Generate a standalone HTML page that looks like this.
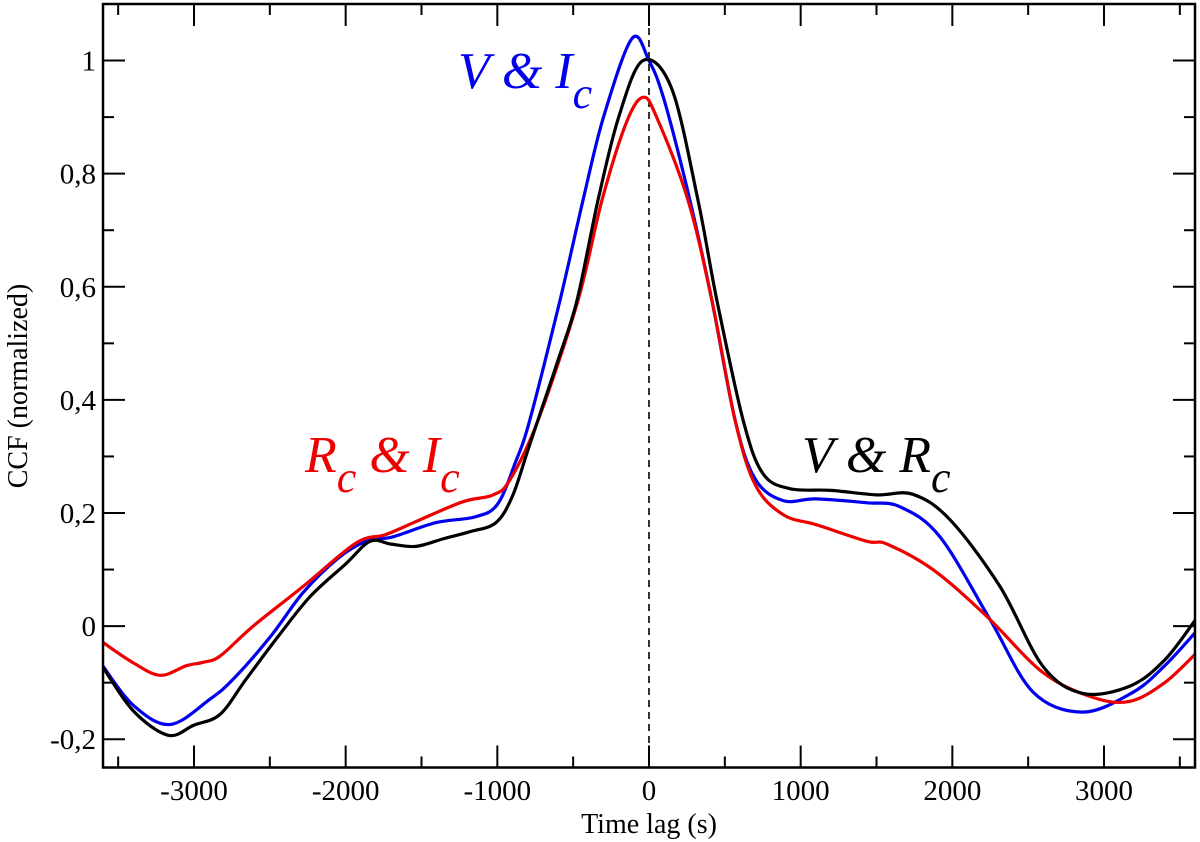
<!DOCTYPE html>
<html><head><meta charset="utf-8"><style>
body{margin:0;background:#fff}
svg{display:block;font-family:"Liberation Serif",serif}
</style></head><body>
<svg id="chart" width="1200" height="842" viewBox="0 0 1200 842" xmlns="http://www.w3.org/2000/svg">
<g id="grid"></g>
<g id="series"></g>
<g id="axes"></g>
<text x="458" y="88" font-size="52" font-style="italic" fill="#0000ee">V &amp; I<tspan font-size="44" dy="20">c</tspan></text>
<text x="305" y="472" font-size="52" font-style="italic" fill="#ee0000">R<tspan font-size="44" dy="20">c</tspan><tspan dy="-20"> &amp; I</tspan><tspan font-size="44" dy="20">c</tspan></text>
<text x="802" y="472" font-size="52" font-style="italic" fill="#000">V &amp; R<tspan font-size="44" dy="20">c</tspan></text>
<text x="649" y="833" font-size="28" text-anchor="middle">Time lag (s)</text>
<text x="0" y="0" font-size="28" text-anchor="middle" transform="translate(27,386) rotate(-90)">CCF (normalized)</text>
</svg>
<script>
const xTicks = [-3000,-2000,-1000,0,1000,2000,3000];
const xTickLabels = ["-3000","-2000","-1000","0","1000","2000","3000"];
const yTicks = [-0.2,0,0.2,0.4,0.6,0.8,1];
const yTickLabels = ["-0,2","0","0,2","0,4","0,6","0,8","1"];
const blackT = [-3600,-3400,-3171,-3000,-2828,-2657,-2450,-2235,-2000,-1839,-1700,-1536,-1350,-1180,-1009,-900,-800,-700,-600,-475,-336,-200,-40,150,323,448,620,750,930,1200,1500,1740,1985,2314,2597,2861,3171,3400,3600];
const blackV = [-0.073,-0.15,-0.193,-0.175,-0.156,-0.094,-0.02,0.052,0.11,0.15,0.145,0.141,0.155,0.167,0.183,0.23,0.31,0.39,0.47,0.576,0.753,0.9,1.0,0.95,0.753,0.576,0.365,0.27,0.243,0.24,0.232,0.233,0.188,0.07,-0.071,-0.119,-0.106,-0.06,0.01];
const blueT = [-3600,-3400,-3158,-2894,-2742,-2500,-2281,-2050,-1865,-1688,-1404,-1150,-1000,-880,-785,-587,-435,-300,-112,0,100,270,415,567,700,885,1100,1437,1655,1918,2248,2533,2861,3191,3400,3600];
const blueV = [-0.071,-0.14,-0.174,-0.129,-0.094,-0.02,0.059,0.12,0.15,0.158,0.183,0.193,0.215,0.29,0.365,0.576,0.753,0.9,1.039,1.0,0.93,0.753,0.576,0.365,0.26,0.222,0.225,0.218,0.211,0.158,0.012,-0.117,-0.152,-0.117,-0.07,-0.012];
const redT = [-3600,-3400,-3223,-3050,-2940,-2828,-2610,-2281,-1931,-1734,-1510,-1226,-1028,-916,-730,-468,-310,-150,-40,50,257,415,567,700,885,1107,1437,1569,1872,2228,2597,2927,3171,3400,3600];
const redV = [-0.029,-0.065,-0.087,-0.07,-0.064,-0.053,0.0,0.07,0.147,0.162,0.188,0.22,0.232,0.259,0.365,0.576,0.753,0.89,0.935,0.9,0.753,0.576,0.365,0.25,0.197,0.179,0.15,0.145,0.1,0.017,-0.082,-0.126,-0.133,-0.1,-0.05];

const NS="http://www.w3.org/2000/svg";
const L=103,R=1195,T=4,B=767.5;
const xMin=-3600,xMax=3600,yMin=-0.25,yMax=1.1;
const sx=t=>L+(t-xMin)/(xMax-xMin)*(R-L);
const sy=v=>B-(v-yMin)/(yMax-yMin)*(B-T);
function mk(tag,attrs,parent){const e=document.createElementNS(NS,tag);for(const k in attrs)e.setAttribute(k,attrs[k]);parent.appendChild(e);return e;}
const axes=document.getElementById('axes'),series=document.getElementById('series'),grid=document.getElementById('grid');

const frame=mk('rect',{x:L,y:T,width:R-L,height:B-T,fill:'none',stroke:'#000','stroke-width':2.5},axes);



const zero=mk('line',{x1:sx(0),x2:sx(0),y1:T,y2:B,stroke:'#000','stroke-width':1.6,'stroke-dasharray':'7,5'},grid);



for(let t=-3500;t<=3500;t+=500){
  const major=(t%1000===0);const len=major?22:11;
  mk('line',{x1:sx(t),x2:sx(t),y1:B,y2:B-len,stroke:'#000','stroke-width':2},axes);
  mk('line',{x1:sx(t),x2:sx(t),y1:T,y2:T+len,stroke:'#000','stroke-width':2},axes);
}
xTicks.forEach((t,i)=>{
  const tx=mk('text',{x:sx(t),y:800,'font-size':29,'text-anchor':'middle'},axes);
  tx.textContent=xTickLabels[i];
  
  
});
for(let k=-2;k<=10;k++){
  const v=k/10;const major=(k%2===0);const len=major?22:11;
  mk('line',{x1:L,x2:L+len,y1:sy(v),y2:sy(v),stroke:'#000','stroke-width':2},axes);
  mk('line',{x1:R,x2:R-len,y1:sy(v),y2:sy(v),stroke:'#000','stroke-width':2},axes);
}
yTicks.forEach((v,i)=>{
  const tx=mk('text',{x:96,y:sy(v)+10,'font-size':29,'text-anchor':'end'},axes);
  tx.textContent=yTickLabels[i];
  
  
});

function smooth(ts,vs){
  const p=ts.map((t,i)=>[sx(t),sy(vs[i])]);
  let d='M'+p[0][0].toFixed(1)+','+p[0][1].toFixed(1);
  for(let i=0;i<p.length-1;i++){
    const p0=p[Math.max(0,i-1)],p1=p[i],p2=p[i+1],p3=p[Math.min(p.length-1,i+2)];
    const c1=[p1[0]+(p2[0]-p0[0])/6,p1[1]+(p2[1]-p0[1])/6];
    const c2=[p2[0]-(p3[0]-p1[0])/6,p2[1]-(p3[1]-p1[1])/6];
    d+=' C'+c1.map(n=>n.toFixed(1))+' '+c2.map(n=>n.toFixed(1))+' '+p2.map(n=>n.toFixed(1));
  }
  return d;
}
const clip=mk('clipPath',{id:'pc'},document.getElementById('chart'));
mk('rect',{x:L,y:T,width:R-L,height:B-T},clip);
const sBlue=mk('path',{d:smooth(blueT,blueV),fill:'none',stroke:'#0000ee','stroke-width':3.2,'clip-path':'url(#pc)'},series);


const sRed=mk('path',{d:smooth(redT,redV),fill:'none',stroke:'#ee0000','stroke-width':3.2,'clip-path':'url(#pc)'},series);


const sBlack=mk('path',{d:smooth(blackT,blackV),fill:'none',stroke:'#000','stroke-width':3.2,'clip-path':'url(#pc)'},series);


</script>
</body></html>
